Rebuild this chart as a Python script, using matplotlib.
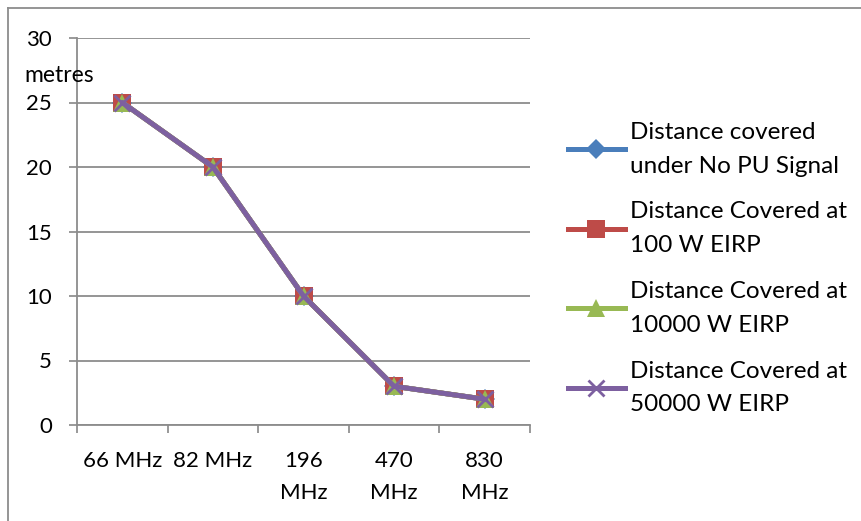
import matplotlib
matplotlib.use("Agg")
import matplotlib.pyplot as plt
from matplotlib.lines import Line2D

plt.rcParams.update({
    "font.family": ["Lato", "DejaVu Sans"],
    "font.size": 16,
})

freqs = ["66 MHz", "82 MHz", "196\nMHz", "470\nMHz", "830\nMHz"]
no_pu = [25, 20, 10, 3, 2]
eirp_100 = [25, 20, 10, 3, 2]
eirp_10000 = [25, 20, 10, 3, 2]
eirp_50000 = [25, 20, 10, 3, 2]

labels = [
    "Distance covered\nunder No PU Signal",
    "Distance Covered at\n100 W EIRP",
    "Distance Covered at\n10000 W EIRP",
    "Distance Covered at\n50000 W EIRP",
]
series = [no_pu, eirp_100, eirp_10000, eirp_50000]
colors = ["#4a7ebb", "#be4b48", "#98b954", "#7d60a0"]
markers = ["D", "s", "^", "x"]
msizes = [10, 13.5, 13, 11]

W, H = 861, 521
fig = plt.figure(figsize=(W / 100, H / 100), dpi=100)
ax = fig.add_axes([77 / W, (H - 425) / H, (530 - 77) / W, (425 - 38) / H])

x = list(range(len(freqs)))
for vals, c, m, ms, lab in zip(series, colors, markers, msizes, labels):
    ax.plot(x, vals, color=c, lw=3.6, marker=m, ms=ms, mew=2 if m == "x" else 0,
            mec=c, label=lab, solid_capstyle="round")

ax.set_xlim(-0.5, len(freqs) - 0.5)
ax.set_ylim(0, 30)
ax.set_yticks(range(0, 31, 5))
ax.set_xticks([i - 0.5 for i in range(len(freqs) + 1)], minor=False)
ax.set_xticklabels([])
ax.set_xticks(x, minor=True)
ax.set_xticklabels(freqs, minor=True, linespacing=1.75, va="top")
ax.tick_params(axis="x", which="major", length=6, width=1.2, color="#888888", direction="out")
ax.tick_params(axis="x", which="minor", length=0, pad=19)
ax.tick_params(axis="y", length=6, width=1.2, color="#888888", pad=12)

ax.grid(axis="y", color="#8c8c8c", lw=1.3)
ax.set_axisbelow(True)
for s in ["top", "right"]:
    ax.spines[s].set_visible(False)
for s in ["left", "bottom"]:
    ax.spines[s].set_color("#8c8c8c")
    ax.spines[s].set_linewidth(1.3)

fig.text(24 / W, 1 - 75 / H, "metres", ha="left", va="center", fontsize=16.5)

handles = [Line2D([0], [0], color=c, lw=3.6, marker=m, ms=ms, mew=2 if m == "x" else 0, mec=c)
           for c, m, ms in zip(colors, markers, msizes)]
leg = fig.legend(handles, labels, loc="upper left", bbox_to_anchor=(546 / W, 1 - 100 / H),
                 frameon=False, handlelength=2.35, handletextpad=0.2, labelspacing=1.02,
                 fontsize=17.5)
for t in leg.get_texts():
    t.set_linespacing(1.75)

# outer chart frame (left and top edges)
fig.add_artist(Line2D([8 / W, 8 / W], [0, 1 - 8 / H], color="#8c8c8c", lw=1.3))
fig.add_artist(Line2D([8 / W, 1], [1 - 8 / H, 1 - 8 / H], color="#8c8c8c", lw=1.3))

fig.savefig("out.png", dpi=100)
